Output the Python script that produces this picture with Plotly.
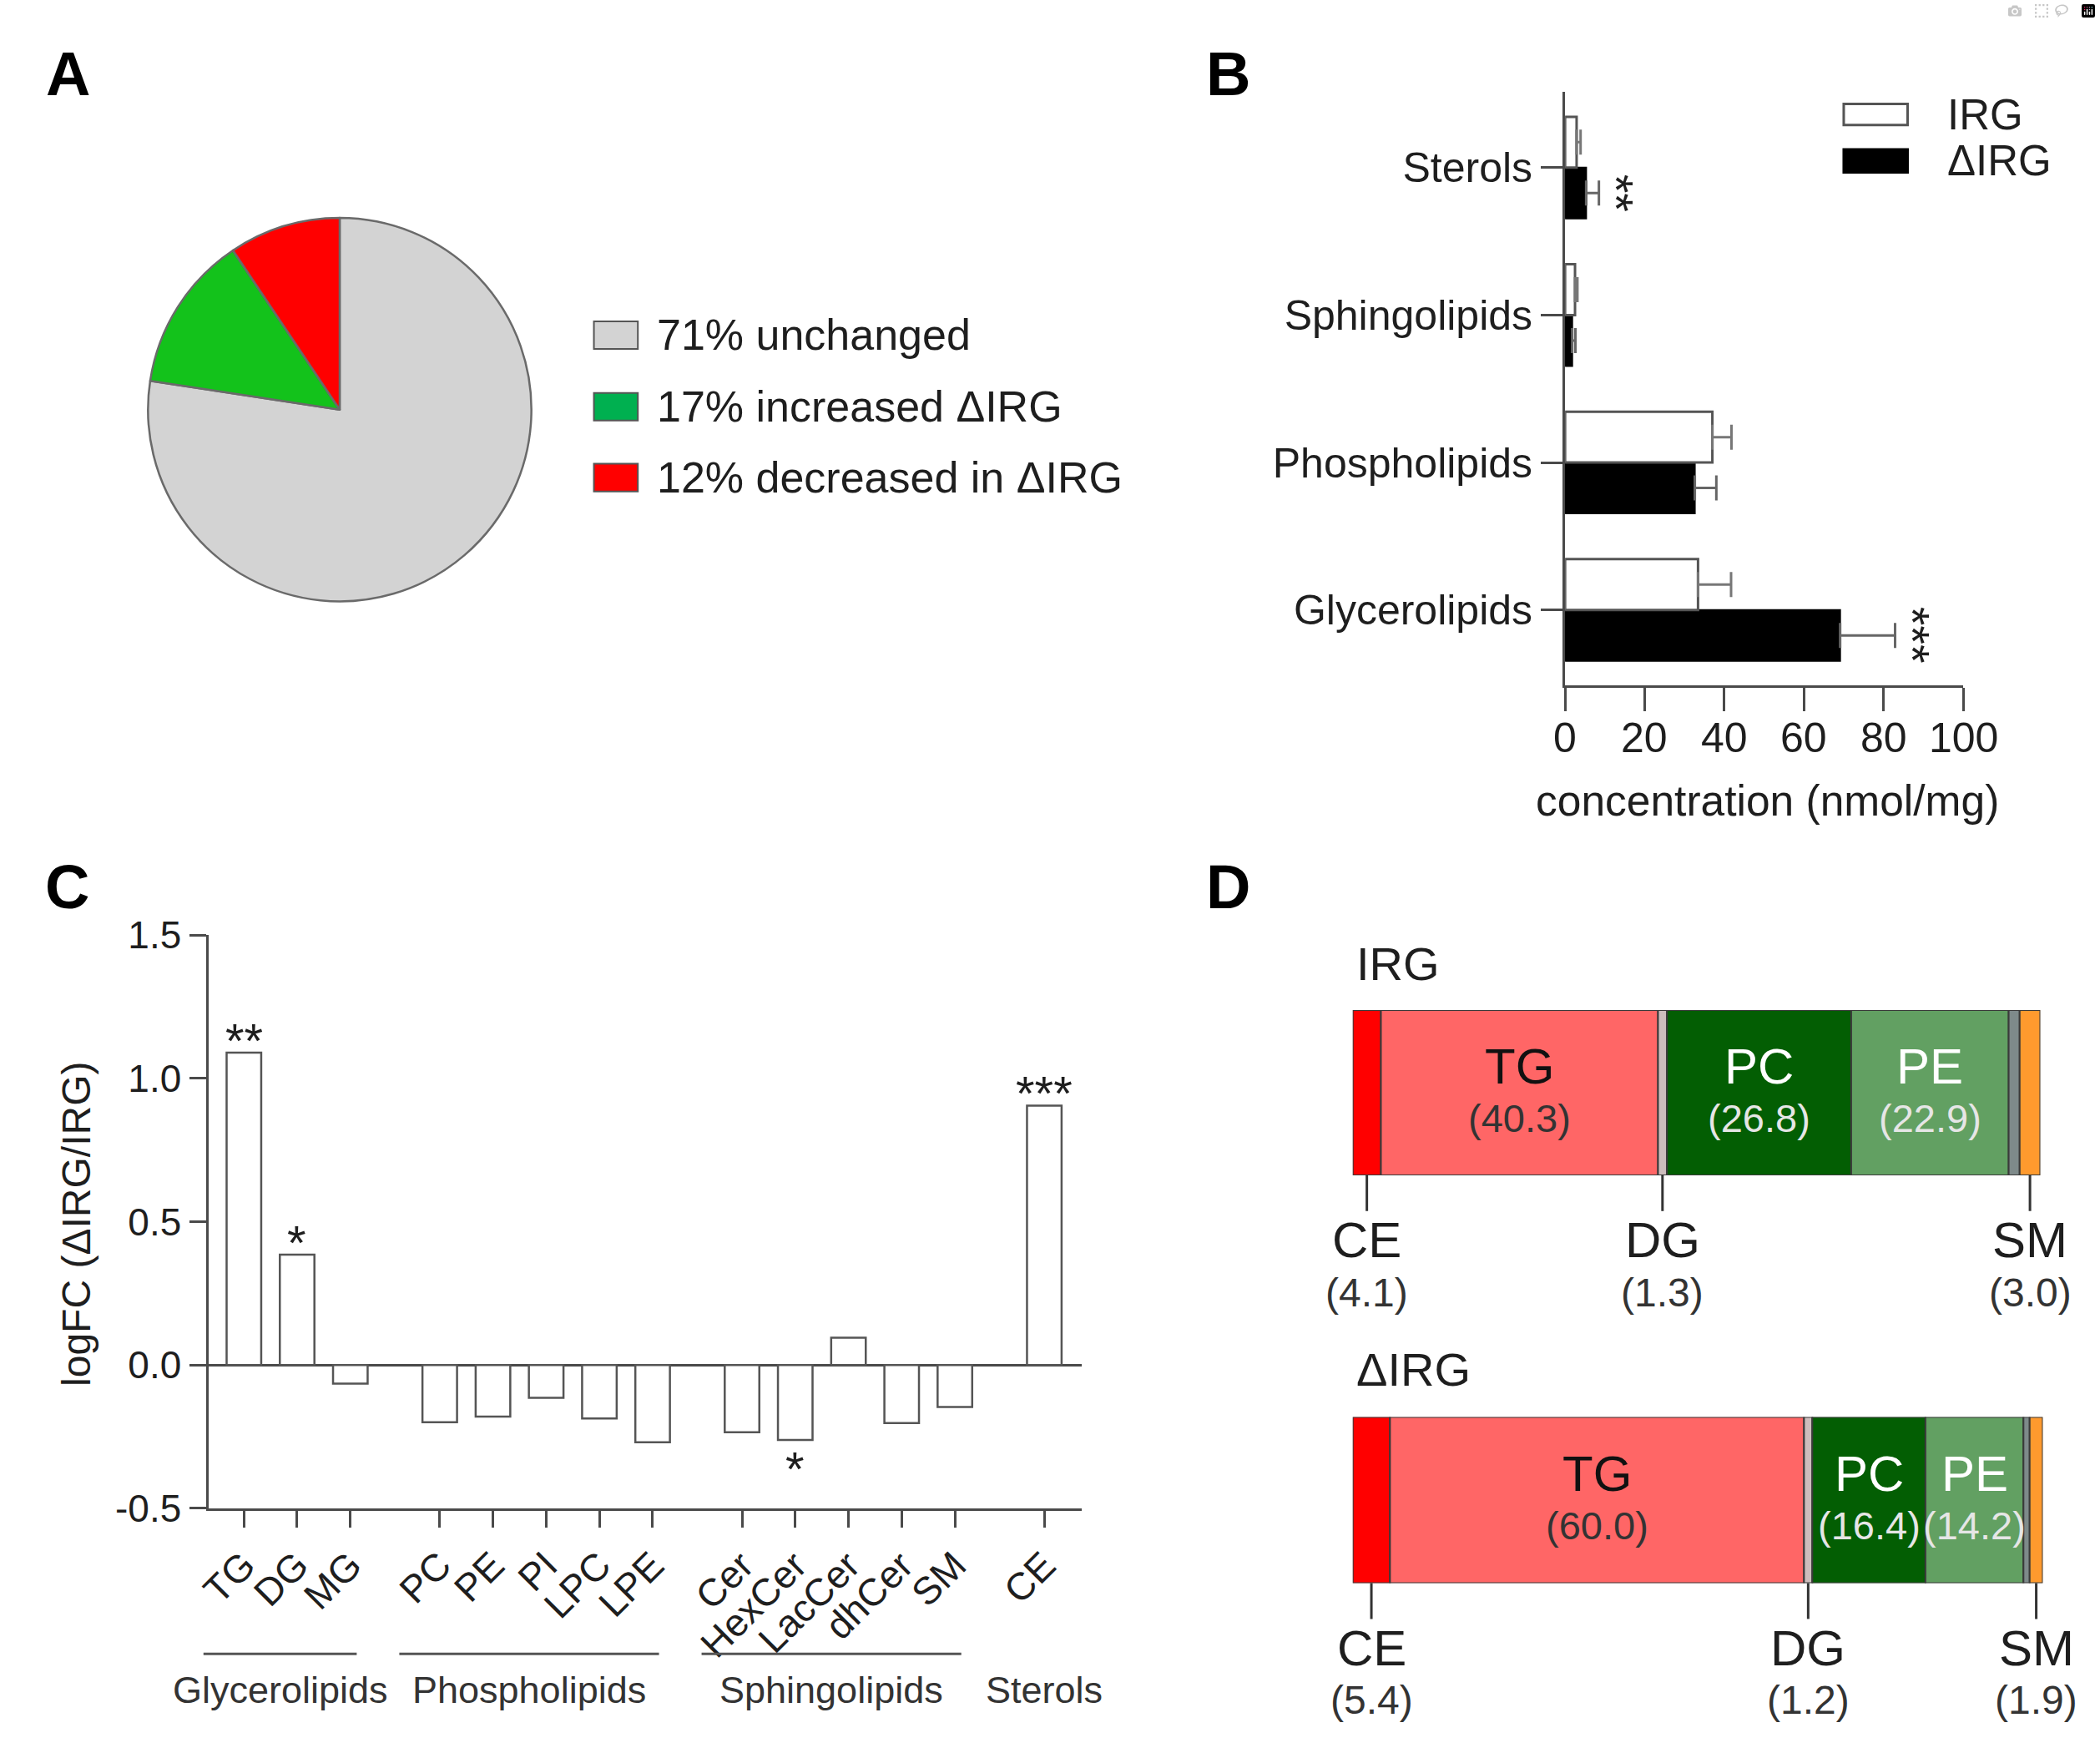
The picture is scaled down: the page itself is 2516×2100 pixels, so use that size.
import numpy as np
import plotly.graph_objects as go

W, H = 2516, 2100
FONT = "Liberation Sans, Arial, sans-serif"
INK = "#1e1e1e"
AXC = "#4a4a4a"

# ---------------- data ----------------
# Panel A
pie_labels = ["71% unchanged", "17% increased \u0394IRG", "12% decreased in \u0394IRG"]
pie_values = [77.4, 13.2, 9.4]
pie_colors = ["#D3D3D3", "#13C21B", "#FF0000"]
pie_key_colors = ["#D3D3D3", "#00B050", "#FF0000"]

# Panel B
b_categories = ["Glycerolipids", "Phospholipids", "Sphingolipids", "Sterols"]
b_irg = [33.4, 37.0, 2.5, 2.9]
b_irg_err = [8.3, 4.8, 0.6, 1.0]
b_dirg = [69.1, 32.6, 1.8, 5.3]
b_dirg_err = [13.8, 5.4, 0.8, 3.2]
b_sig = ["***", "", "", "**"]
b_ticks = [0, 20, 40, 60, 80, 100]
b_series = ["IRG", "\u0394IRG"]

# Panel C
c_classes = ["TG", "DG", "MG", "PC", "PE", "PI", "LPC", "LPE",
             "Cer", "HexCer", "LacCer", "dhCer", "SM", "CE"]
c_group_idx = [0, 0, 0, 1, 1, 1, 1, 1, 2, 2, 2, 2, 2, 3]
c_logfc = [1.09, 0.385, -0.065, -0.20, -0.18, -0.115, -0.187, -0.27,
           -0.235, -0.262, 0.095, -0.203, -0.147, 0.905]
c_sig = ["**", "*", "", "", "", "", "", "", "", "*", "", "", "", "***"]
c_group_names = ["Glycerolipids", "Phospholipids", "Sphingolipids", "Sterols"]
c_yticks = [-0.5, 0.0, 0.5, 1.0, 1.5]
c_yticktext = ["-0.5", "0.0", "0.5", "1.0", "1.5"]

# Panel D
d_classes = ["CE", "TG", "DG", "PC", "PE", "other", "SM"]
d_irg = [4.1, 40.3, 1.3, 26.8, 22.9, 1.6, 3.0]
d_dirg = [5.4, 60.0, 1.2, 16.4, 14.2, 0.9, 1.9]
d_colors = ["#FF0000", "#FF6666", "#CDBDBD", "#035E03", "#62A062", "#7E8A8A", "#FF9A2E"]
d_inside = ["TG", "PC", "PE"]
d_callout = ["CE", "DG", "SM"]
d_titles = ["IRG", "\u0394IRG"]


def px(x):
    return x / W


def py(y):
    return 1 - y / H


fig = go.Figure()
shapes = []
ann = []

# ---------------- Panel A ----------------
fig.add_trace(go.Pie(
    labels=pie_labels, values=pie_values, sort=False, direction="clockwise",
    rotation=0, textinfo="none", hoverinfo="label+value", showlegend=False,
    marker=dict(colors=pie_colors, line=dict(color="#6a6a6a", width=2.5)),
    domain=dict(x=[px(158), px(629)], y=[py(712), py(241)]),
))
key_rows = [385, 473, 560]
for lab, col, yc in zip(pie_labels, pie_key_colors, key_rows):
    shapes.append(dict(type="rect", xref="paper", yref="paper",
                       x0=px(700), x1=px(753), y0=py(yc + 17), y1=py(yc - 17),
                       fillcolor=col, line=dict(color="#555555", width=2)))
    ann.append(dict(xref="paper", yref="paper", x=px(774), y=py(yc), text=lab,
                    xanchor="left", yanchor="middle", showarrow=False,
                    font=dict(size=52, color=INK)))

# ---------------- Panel B ----------------
b_xdom = [px(1871), px(2351)]
fig.add_trace(go.Bar(
    y=b_categories, x=b_dirg, orientation="h", width=0.345, offset=-0.345,
    marker=dict(color="black", line=dict(color="black", width=2)),
    error_x=dict(type="data", array=b_dirg_err, arrayminus=[0] * 4, symmetric=False,
                 color="#666666", thickness=3, width=15),
    xaxis="x", yaxis="y", showlegend=False, name=b_series[1]))
fig.add_trace(go.Bar(
    y=b_categories, x=b_irg, orientation="h", width=0.345, offset=0.0,
    marker=dict(color="white", line=dict(color="#555555", width=3)),
    error_x=dict(type="data", array=b_irg_err, arrayminus=[0] * 4, symmetric=False,
                 color="#777777", thickness=3, width=15),
    xaxis="x", yaxis="y", showlegend=False, name=b_series[0]))
for i, s in enumerate(b_sig):
    if s:
        ann.append(dict(xref="x", yref="y", x=b_dirg[i] + b_dirg_err[i] + 4.3,
                        y=i - 0.17, text=s, textangle=90, showarrow=False,
                        xanchor="center", yanchor="middle",
                        font=dict(size=58, color=INK)))
# x tick labels of B (placed as text at the tick values)
for v in b_ticks:
    ann.append(dict(xref="x", yref="paper", x=v, y=py(880), text=str(v), showarrow=False,
                    xanchor="center", yanchor="middle", font=dict(size=50, color=INK)))
# legend B
for name, fill, y0, y1 in [(b_series[0], "white", 101, 127), (b_series[1], "black", 157, 185)]:
    shapes.append(dict(type="rect", xref="paper", yref="paper",
                       x0=px(2207), x1=px(2284), y0=py(y1), y1=py(y0),
                       fillcolor=fill, line=dict(color="#555555" if fill == "white" else "black", width=3)))
    ann.append(dict(xref="paper", yref="paper", x=px(2330), y=py((y0 + y1) / 2), text=name,
                    xanchor="left", yanchor="middle", showarrow=False,
                    font=dict(size=51, color=INK)))
ann.append(dict(xref="paper", yref="paper", x=px(2115), y=py(957),
                text="concentration (nmol/mg)", showarrow=False,
                xanchor="center", yanchor="middle", font=dict(size=51.5, color=INK)))

# ---------------- Panel C ----------------
c_xdom = [px(235), px(1288)]
c_xrange = [-0.67, 15.74]


def c_to_paper(v):
    return c_xdom[0] + (v - c_xrange[0]) / (c_xrange[1] - c_xrange[0]) * (c_xdom[1] - c_xdom[0])


c_pos = [i + 0.68 * g for i, g in enumerate(c_group_idx)]
fig.add_trace(go.Bar(
    x=c_pos, y=c_logfc, width=0.65,
    marker=dict(color="white", line=dict(color="#555555", width=2.5)),
    xaxis="x2", yaxis="y2", showlegend=False, hovertext=c_classes))
for i, s in enumerate(c_sig):
    if s:
        up = c_logfc[i] > 0
        ann.append(dict(xref="x2", yref="y2", x=c_pos[i], y=c_logfc[i], text=s,
                        showarrow=False, xanchor="center",
                        yanchor="bottom" if up else "top",
                        yshift=-20 if up else 0,
                        font=dict(size=58, color=INK)))
# group lines & labels
for g, gname in enumerate(c_group_names):
    members = [c_pos[i] for i in range(len(c_pos)) if c_group_idx[i] == g]
    if len(members) > 1:
        x0, x1 = members[0] - 0.76, members[-1] + 0.12
        shapes.append(dict(type="line", xref="paper", yref="paper",
                           x0=c_to_paper(x0), x1=c_to_paper(x1),
                           y0=py(2005), y1=py(2005), line=dict(color="#555555", width=3)))
        xc = (x0 + x1) / 2
    else:
        xc = members[0]
    ann.append(dict(xref="x2", yref="paper", x=xc, y=py(2049), text=gname,
                    showarrow=False, xanchor="center", yanchor="middle",
                    font=dict(size=45, color="#333333")))
ann.append(dict(xref="paper", yref="paper", x=px(76), y=py(1477),
                text="logFC (\u0394IRG/IRG)", textangle=-90, showarrow=False,
                xanchor="center", yanchor="middle", font=dict(size=48, color=INK)))

# ---------------- Panel D ----------------
d_sets = [d_irg, d_dirg]
d_axes = [("x3", "y3"), ("x4", "y4")]
d_xdom = [[px(1615), px(2444)], [px(1615), px(2447)]]
d_ydom = [[py(1417), py(1214)], [py(1918), py(1714)]]
d_title_y = [1157, 1656]
for k, vals in enumerate(d_sets):
    base = np.concatenate([[0.0], np.cumsum(vals)[:-1]])
    xa, ya = d_axes[k]
    for j, cls in enumerate(d_classes):
        fig.add_trace(go.Bar(
            y=[0], x=[vals[j]], base=[base[j]], orientation="h", width=1.0,
            marker=dict(color=d_colors[j], line=dict(color="#3a3a3a", width=2)),
            xaxis=xa, yaxis=ya, showlegend=False, name=cls))
        mid = base[j] + vals[j] / 2
        if cls in d_inside:
            light = cls in ("PC", "PE")
            ann.append(dict(xref=xa, yref=ya, x=mid, y=0.16, text=cls, showarrow=False,
                            xanchor="center", yanchor="middle",
                            font=dict(size=60, color="white" if light else "#111111")))
            ann.append(dict(xref=xa, yref=ya, x=mid, y=-0.155, text=f"({vals[j]:.1f})",
                            showarrow=False, xanchor="center", yanchor="middle",
                            font=dict(size=47, color="#e6e6e6" if light else "#333333")))
        if cls in d_callout:
            yb = d_ydom[k][0]
            shapes.append(dict(type="line", xref=xa, yref="paper", x0=mid, x1=mid,
                               y0=yb, y1=yb - 44 / H, line=dict(color="#333333", width=3)))
            ann.append(dict(xref=xa, yref="paper", x=mid, y=yb - 80 / H, text=cls,
                            showarrow=False, xanchor="center", yanchor="middle",
                            font=dict(size=60, color=INK)))
            ann.append(dict(xref=xa, yref="paper", x=mid, y=yb - 144 / H,
                            text=f"({vals[j]:.1f})", showarrow=False,
                            xanchor="center", yanchor="middle",
                            font=dict(size=48, color="#333333")))
    ann.append(dict(xref="paper", yref="paper", x=px(1617), y=py(d_title_y[k]),
                    text=d_titles[k], showarrow=False, xanchor="left", yanchor="middle",
                    font=dict(size=56, color=INK)))

# panel letters
for letter, (lx, ly) in zip("ABCD", [(66, 64), (1465, 64), (65, 1063), (1465, 1063)]):
    ann.append(dict(xref="paper", yref="paper", x=px(lx), y=py(ly), text=f"<b>{letter}</b>",
                    showarrow=False, xanchor="center", yanchor="middle",
                    font=dict(size=74, color="black")))

axis_common = dict(showgrid=False, linecolor=AXC, linewidth=3, tickcolor=AXC, tickwidth=3,
                   fixedrange=True, tickfont=dict(size=50, color=INK))

fig.update_layout(
    width=W, height=H, margin=dict(l=0, r=0, t=0, b=0),
    paper_bgcolor="white", plot_bgcolor="white",
    font=dict(family=FONT, color=INK),
    barmode="overlay", showlegend=False,
    xaxis=dict(domain=b_xdom, range=[0, 100], anchor="y",
               showline=True, ticks="outside", ticklen=28, tickvals=b_ticks,
               showticklabels=False, zeroline=False, **axis_common),
    yaxis=dict(domain=[py(815), py(86)], range=[-0.51, 3.515], anchor="x", type="category",
               showline=True, ticks="outside", ticklen=26, zeroline=False, **axis_common),
    xaxis2=dict(domain=c_xdom, range=c_xrange, anchor="y2",
                showline=True, ticks="outside", ticklen=20, tickvals=c_pos,
                ticktext=c_classes, tickangle=-45, zeroline=False,
                **{**axis_common, "tickfont": dict(size=46, color=INK)}),
    yaxis2=dict(domain=[py(1826), py(1122)], range=[-0.5, 1.5], anchor="x2",
                showline=True, ticks="outside", ticklen=20, tickvals=c_yticks,
                ticktext=c_yticktext, zeroline=True, zerolinecolor=AXC, zerolinewidth=3,
                **{**axis_common, "tickfont": dict(size=46, color=INK)}),
    xaxis3=dict(domain=d_xdom[0], range=[0, 100], anchor="y3", visible=False, fixedrange=True),
    yaxis3=dict(domain=d_ydom[0], range=[-0.5, 0.5], anchor="x3", visible=False, fixedrange=True),
    xaxis4=dict(domain=d_xdom[1], range=[0, 100], anchor="y4", visible=False, fixedrange=True),
    yaxis4=dict(domain=d_ydom[1], range=[-0.5, 0.5], anchor="x4", visible=False, fixedrange=True),
    shapes=shapes, annotations=ann,
)

fig.write_html("out.html", post_script="document.body.style.margin='0';")
